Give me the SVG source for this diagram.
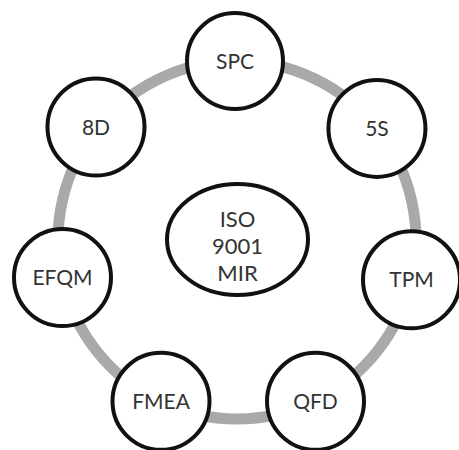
<svg xmlns="http://www.w3.org/2000/svg" width="459" height="450" viewBox="0 0 459 450">
  <style>
    .ring { fill: none; stroke: #a9a9a9; stroke-width: 11; }
    .node { fill: #ffffff; stroke: #111111; stroke-width: 4; }
    .lbl { font-family: Lato, "Open Sans", sans-serif; font-size: 21px; fill: #333333; text-anchor: middle; }
    .big { font-size: 22px; }
  </style>
  <rect width="459" height="450" fill="#ffffff"/>
  <g id="connectors">
    <path class="ring" d="M237,61 A179,179 0 0 1 376.95,128.39"/>
    <path class="ring" d="M376.95,128.39 A179,179 0 0 1 411.51,279.83"/>
    <path class="ring" d="M411.51,279.83 A179,179 0 0 1 314.67,401.28"/>
    <path class="ring" d="M314.67,401.28 A179,179 0 0 1 159.33,401.28"/>
    <path class="ring" d="M159.33,401.28 A179,179 0 0 1 62.49,279.83"/>
    <path class="ring" d="M62.49,279.83 A179,179 0 0 1 97.05,128.39"/>
    <path class="ring" d="M97.05,128.39 A179,179 0 0 1 237,61"/>
  </g>
  <g id="node-spc">
    <circle class="node" cx="235" cy="61" r="48"/>
    <text class="lbl" x="235" y="68.5">SPC</text>
  </g>
  <g id="node-5s">
    <circle class="node" cx="376.95" cy="128.39" r="48.5"/>
    <text class="lbl" x="376.95" y="135.5">5S</text>
  </g>
  <g id="node-tpm">
    <circle class="node" cx="411.51" cy="279.83" r="48.5"/>
    <text class="lbl" x="411.51" y="287">TPM</text>
  </g>
  <g id="node-qfd">
    <circle class="node" cx="315.5" cy="401.28" r="48.5"/>
    <text class="lbl" x="315.5" y="408.5">QFD</text>
  </g>
  <g id="node-fmea">
    <circle class="node" cx="161" cy="401.28" r="48.5"/>
    <text class="lbl" x="161" y="408.5">FMEA</text>
  </g>
  <g id="node-efqm">
    <circle class="node" cx="62.49" cy="277.5" r="48.5"/>
    <text class="lbl" x="62.49" y="285">EFQM</text>
  </g>
  <g id="node-8d">
    <circle class="node" cx="96" cy="127" r="48.5"/>
    <text class="lbl" x="96" y="134.5">8D</text>
  </g>
  <g id="node-iso">
    <ellipse class="node" cx="237.5" cy="239.5" rx="70.5" ry="55.5"/>
    <text class="lbl big" x="237.5" y="227">ISO</text>
    <text class="lbl big" x="237.5" y="254">9001</text>
    <text class="lbl big" x="237.5" y="281">MIR</text>
  </g>
</svg>
